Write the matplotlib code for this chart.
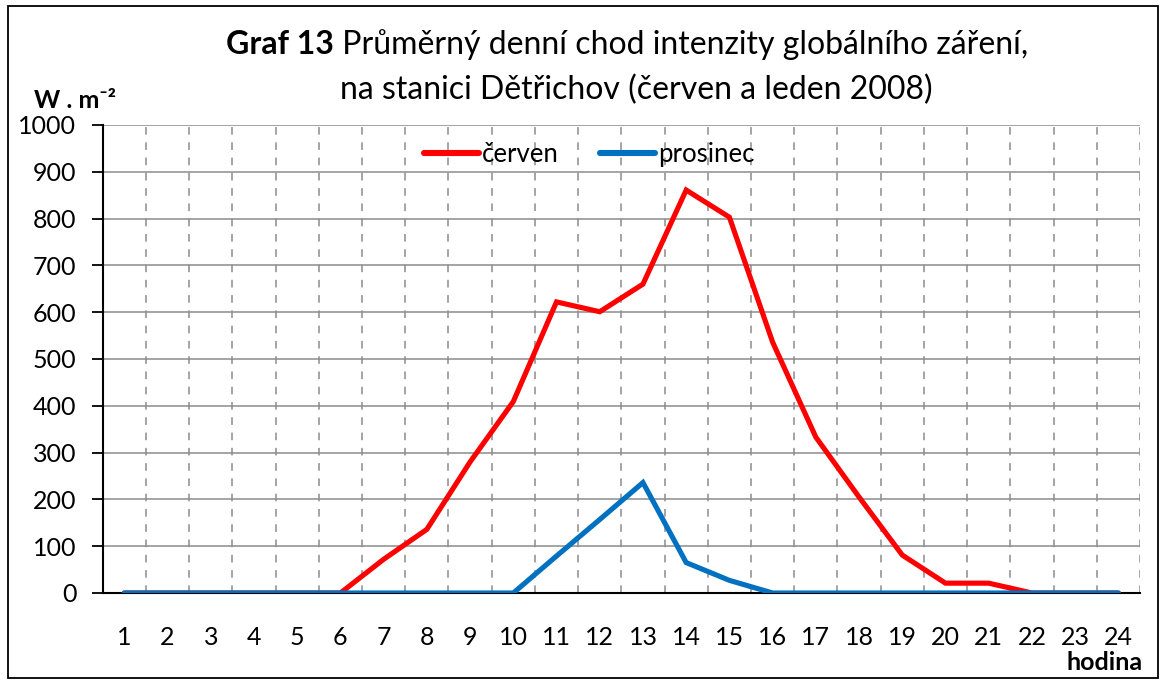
import matplotlib
matplotlib.use("Agg")
import matplotlib.pyplot as plt
from matplotlib.patches import Rectangle

hours = list(range(1, 25))
cerven = [0, 0, 0, 0, 0, 0, 72, 136, 280, 409, 622, 601, 660, 861, 803, 536,
          333, 205, 81, 21, 21, 0, 0, 0]
prosinec = [0, 0, 0, 0, 0, 0, 0, 0, 0, 0, 79, 157, 236, 65, 27, 0,
            0, 0, 0, 0, 0, 0, 0, 0]
yticks = list(range(0, 1001, 100))

FONT = ['Lato', 'DejaVu Sans']
plt.rcParams['font.family'] = FONT

W, H = 1164, 680
fig = plt.figure(figsize=(W / 100, H / 100), dpi=100)
fig.patches.append(Rectangle((8 / W, 2 / H), 1150 / W, 672 / H, transform=fig.transFigure,
                             fill=False, edgecolor='black', linewidth=1.3))

ax = fig.add_axes([102.7 / W, 87 / H, (1140 - 102.7) / W, (593 - 125) / H])
ax.plot(hours, cerven, color='#FF0000', linewidth=3.7, solid_capstyle='round',
        solid_joinstyle='miter', label='červen', zorder=3)
ax.plot(hours, prosinec, color='#0070C0', linewidth=3.7, solid_capstyle='round',
        solid_joinstyle='miter', label='prosinec', zorder=4)

ax.set_xlim(0.5, 24.5)
ax.set_ylim(0, 1000)
ax.set_yticks(yticks)
ax.set_xticks(hours)
ax.set_xticks([h + 0.5 for h in hours], minor=True)
ax.tick_params(axis='x', which='both', length=0, pad=24, labelsize=18)
ax.tick_params(axis='y', which='major', length=8, width=1.3, direction='out', pad=11,
               labelsize=18)
ax.grid(axis='y', which='major', color='#8C8C8C', linewidth=1.1, linestyle='-', zorder=1)
ax.grid(axis='x', which='minor', color='#8C8C8C', linewidth=1.1,
        linestyle=(0, (5, 5)), zorder=1)
ax.set_axisbelow(True)
for s in ['top', 'right']:
    ax.spines[s].set_visible(False)
ax.spines['left'].set_linewidth(1.5)
ax.spines['bottom'].set_linewidth(1.5)
ax.spines['bottom'].set_zorder(2)

leg = ax.legend(loc='center', bbox_to_anchor=(0.469, 0.936), ncol=2, frameon=False,
                fontsize=18.5, handlelength=2.15, handletextpad=0.12, columnspacing=1.6,
                borderaxespad=0, borderpad=0)
for l in leg.get_lines():
    l.set_linewidth(4.4)

# title: bold + regular pieces on line 1
fig.canvas.draw()
r = fig.canvas.get_renderer()
t1 = fig.text(0, 1 - 45 / H, 'Graf 13', fontsize=23, fontweight='bold', va='center')
t2 = fig.text(0, 1 - 45 / H, ' Průměrný denní chod intenzity globálního záření,',
              fontsize=23, va='center')
w1 = t1.get_window_extent(r).width
w2 = t2.get_window_extent(r).width
x0 = 627 - (w1 + w2) / 2
t1.set_x(x0 / W)
t2.set_x((x0 + w1) / W)
fig.text(636 / W, 1 - 90 / H, 'na stanici Dětřichov (červen a leden 2008)', fontsize=23,
         ha='center', va='center')

fig.text(75 / W, 1 - 100 / H, 'W . m⁻²', fontsize=18, fontweight='bold',
         ha='center', va='center')
fig.text(1143 / W, 1 - 662 / H, 'hodina', fontsize=18, fontweight='bold',
         ha='right', va='center')

fig.savefig('out.png', dpi=100)
